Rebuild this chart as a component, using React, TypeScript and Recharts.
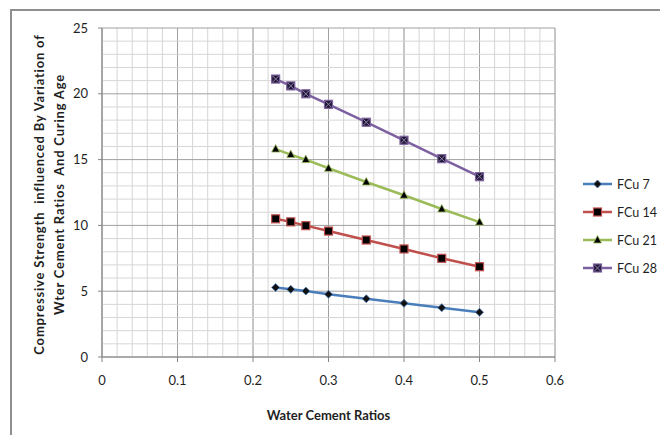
import React from "react";
import { LineChart, Line, XAxis, YAxis, CartesianGrid, ReferenceLine } from "recharts";

// water cement ratios (x) and compressive strength per curing age
const ratios = [0.23, 0.25, 0.27, 0.3, 0.35, 0.4, 0.45, 0.5];
const fcu7 = [5.28, 5.14, 5.01, 4.77, 4.43, 4.08, 3.75, 3.4];
const fcu14 = [10.5, 10.27, 9.98, 9.57, 8.89, 8.21, 7.5, 6.86];
const fcu21 = [15.8, 15.38, 15.0, 14.34, 13.3, 12.29, 11.25, 10.25];
const fcu28 = [21.12, 20.6, 20.0, 19.2, 17.84, 16.47, 15.07, 13.7];

const xTicks = [0, 0.1, 0.2, 0.3, 0.4, 0.5, 0.6];
const yTicks = [0, 5, 10, 15, 20, 25];
const minorX = [0, 0.02, 0.04, 0.06, 0.08, 0.1, 0.12, 0.14, 0.16, 0.18, 0.2, 0.22, 0.24, 0.26, 0.28, 0.3, 0.32, 0.34, 0.36, 0.38, 0.4, 0.42, 0.44, 0.46, 0.48, 0.5, 0.52, 0.54, 0.56, 0.58, 0.6];
const minorY = [1, 2, 3, 4, 6, 7, 8, 9, 11, 12, 13, 14, 16, 17, 18, 19, 21, 22, 23, 24];

const data = ratios.map((r, i) => ({
  ratio: r,
  fcu7: fcu7[i],
  fcu14: fcu14[i],
  fcu21: fcu21[i],
  fcu28: fcu28[i],
}));

const FONT = "Lato, 'Open Sans', sans-serif";

type Marker = "diamond" | "square" | "triangle" | "xsquare";

function drawMarker(kind: Marker, cx: number, cy: number, color: string, key?: string | number) {
  if (kind === "diamond") {
    return (
      <polygon key={key} points={`${cx},${cy - 4} ${cx + 4},${cy} ${cx},${cy + 4} ${cx - 4},${cy}`} fill="#111" stroke={color} strokeWidth={0.8} />
    );
  }
  if (kind === "square") {
    return <rect key={key} x={cx - 4} y={cy - 4} width={8} height={8} fill="#000" stroke={color} strokeWidth={1.2} />;
  }
  if (kind === "triangle") {
    return (
      <polygon key={key} points={`${cx},${cy - 4.5} ${cx + 4},${cy + 3} ${cx - 4},${cy + 3}`} fill="#000" stroke={color} strokeWidth={0.8} />
    );
  }
  return (
    <g key={key}>
      <rect x={cx - 4} y={cy - 4} width={8} height={8} fill="#1e1830" stroke={color} strokeWidth={1.2} />
      <line x1={cx - 3} y1={cy - 3} x2={cx + 3} y2={cy + 3} stroke="#9480b8" strokeWidth={1} />
      <line x1={cx - 3} y1={cy + 3} x2={cx + 3} y2={cy - 3} stroke="#9480b8" strokeWidth={1} />
    </g>
  );
}

const series: { key: string; name: string; color: string; marker: Marker }[] = [
  { key: "fcu7", name: "FCu 7", color: "#4a7ebb", marker: "diamond" },
  { key: "fcu14", name: "FCu 14", color: "#c0504d", marker: "square" },
  { key: "fcu21", name: "FCu 21", color: "#9bbb59", marker: "triangle" },
  { key: "fcu28", name: "FCu 28", color: "#7d60a0", marker: "xsquare" },
];

export default function App() {
  return (
    <div style={{ position: "absolute", left: 0, top: 0, width: 660, height: 435, overflow: "hidden", background: "#fff", fontFamily: FONT }}>
      <div style={{ position: "absolute", left: 10, top: 9, width: 700, height: 500, border: "2px solid #8f8f8f" }} />
      <LineChart width={660} height={435} data={data} margin={{ top: 28, right: 105, bottom: 0, left: 0 }}>
        <XAxis xAxisId="minor" type="number" dataKey="ratio" domain={[0, 0.6]} ticks={minorX} interval={0} hide />
        <CartesianGrid xAxisId="minor" horizontal={false} stroke="#d6d6d6" />
        {minorY.map((v) => (
          <ReferenceLine key={`my-${v}`} y={v} stroke="#d6d6d6" strokeWidth={1} />
        ))}
        <CartesianGrid stroke="#a0a0a0" />
        <XAxis
          type="number"
          dataKey="ratio"
          domain={[0, 0.6]}
          ticks={xTicks}
          interval={0}
          height={78}
          tickSize={5}
          tickMargin={14}
          stroke="#868686"
          tick={{ fill: "#1f1f1f", fontSize: 13, fontFamily: FONT }}
          tickFormatter={(v: number) => String(v)}
          label={{
            content: (p: any) => (
              <text x={p.viewBox.x + p.viewBox.width / 2} y={p.viewBox.y + 58} textAnchor="middle" dominantBaseline="central" fontSize={13} fontWeight="bold" fontFamily={FONT} fill="#1f1f1f">
                Water Cement Ratios
              </text>
            ),
          }}
        />
        <YAxis
          type="number"
          domain={[0, 25]}
          ticks={yTicks}
          interval={0}
          width={102}
          tickSize={4}
          tickMargin={10}
          stroke="#868686"
          tick={{ fill: "#1f1f1f", fontSize: 13, fontFamily: FONT }}
          label={{
            content: (p: any) => {
              const cy = p.viewBox.y + p.viewBox.height / 2 + 2;
              return (
                <g fontSize={13} fontWeight="bold" fontFamily={FONT} fill="#1f1f1f" letterSpacing={0.8}>
                  <text x={39} y={cy} transform={`rotate(-90 39 ${cy})`} textAnchor="middle" dominantBaseline="central" style={{ whiteSpace: "pre" }}>
                    Compressive Strength  influenced By Variation of
                  </text>
                  <text x={59} y={cy} transform={`rotate(-90 59 ${cy})`} textAnchor="middle" dominantBaseline="central" style={{ whiteSpace: "pre" }}>
                    Wter Cement Ratios  And Curing Age
                  </text>
                </g>
              );
            },
          }}
        />
        {series.map((s) => (
          <Line
            key={s.key}
            type="linear"
            dataKey={s.key}
            name={s.name}
            stroke={s.color}
            strokeWidth={2.5}
            isAnimationActive={false}
            activeDot={false}
            dot={(p: any) => drawMarker(s.marker, p.cx, p.cy, s.color, `${s.key}-${p.index}`)}
          />
        ))}
      </LineChart>
      <svg style={{ position: "absolute", left: 0, top: 0 }} width={660} height={435}>
        {series.map((s, i) => {
          const y = 184 + i * 28;
          return (
            <g key={s.key}>
              <line x1={583} x2={612} y1={y} y2={y} stroke={s.color} strokeWidth={2.5} />
              {drawMarker(s.marker, 597.5, y, s.color)}
              <text x={617} y={y} dominantBaseline="central" fontSize={12.5} fontFamily={FONT} fill="#1f1f1f">
                {s.name}
              </text>
            </g>
          );
        })}
      </svg>
    </div>
  );
}
